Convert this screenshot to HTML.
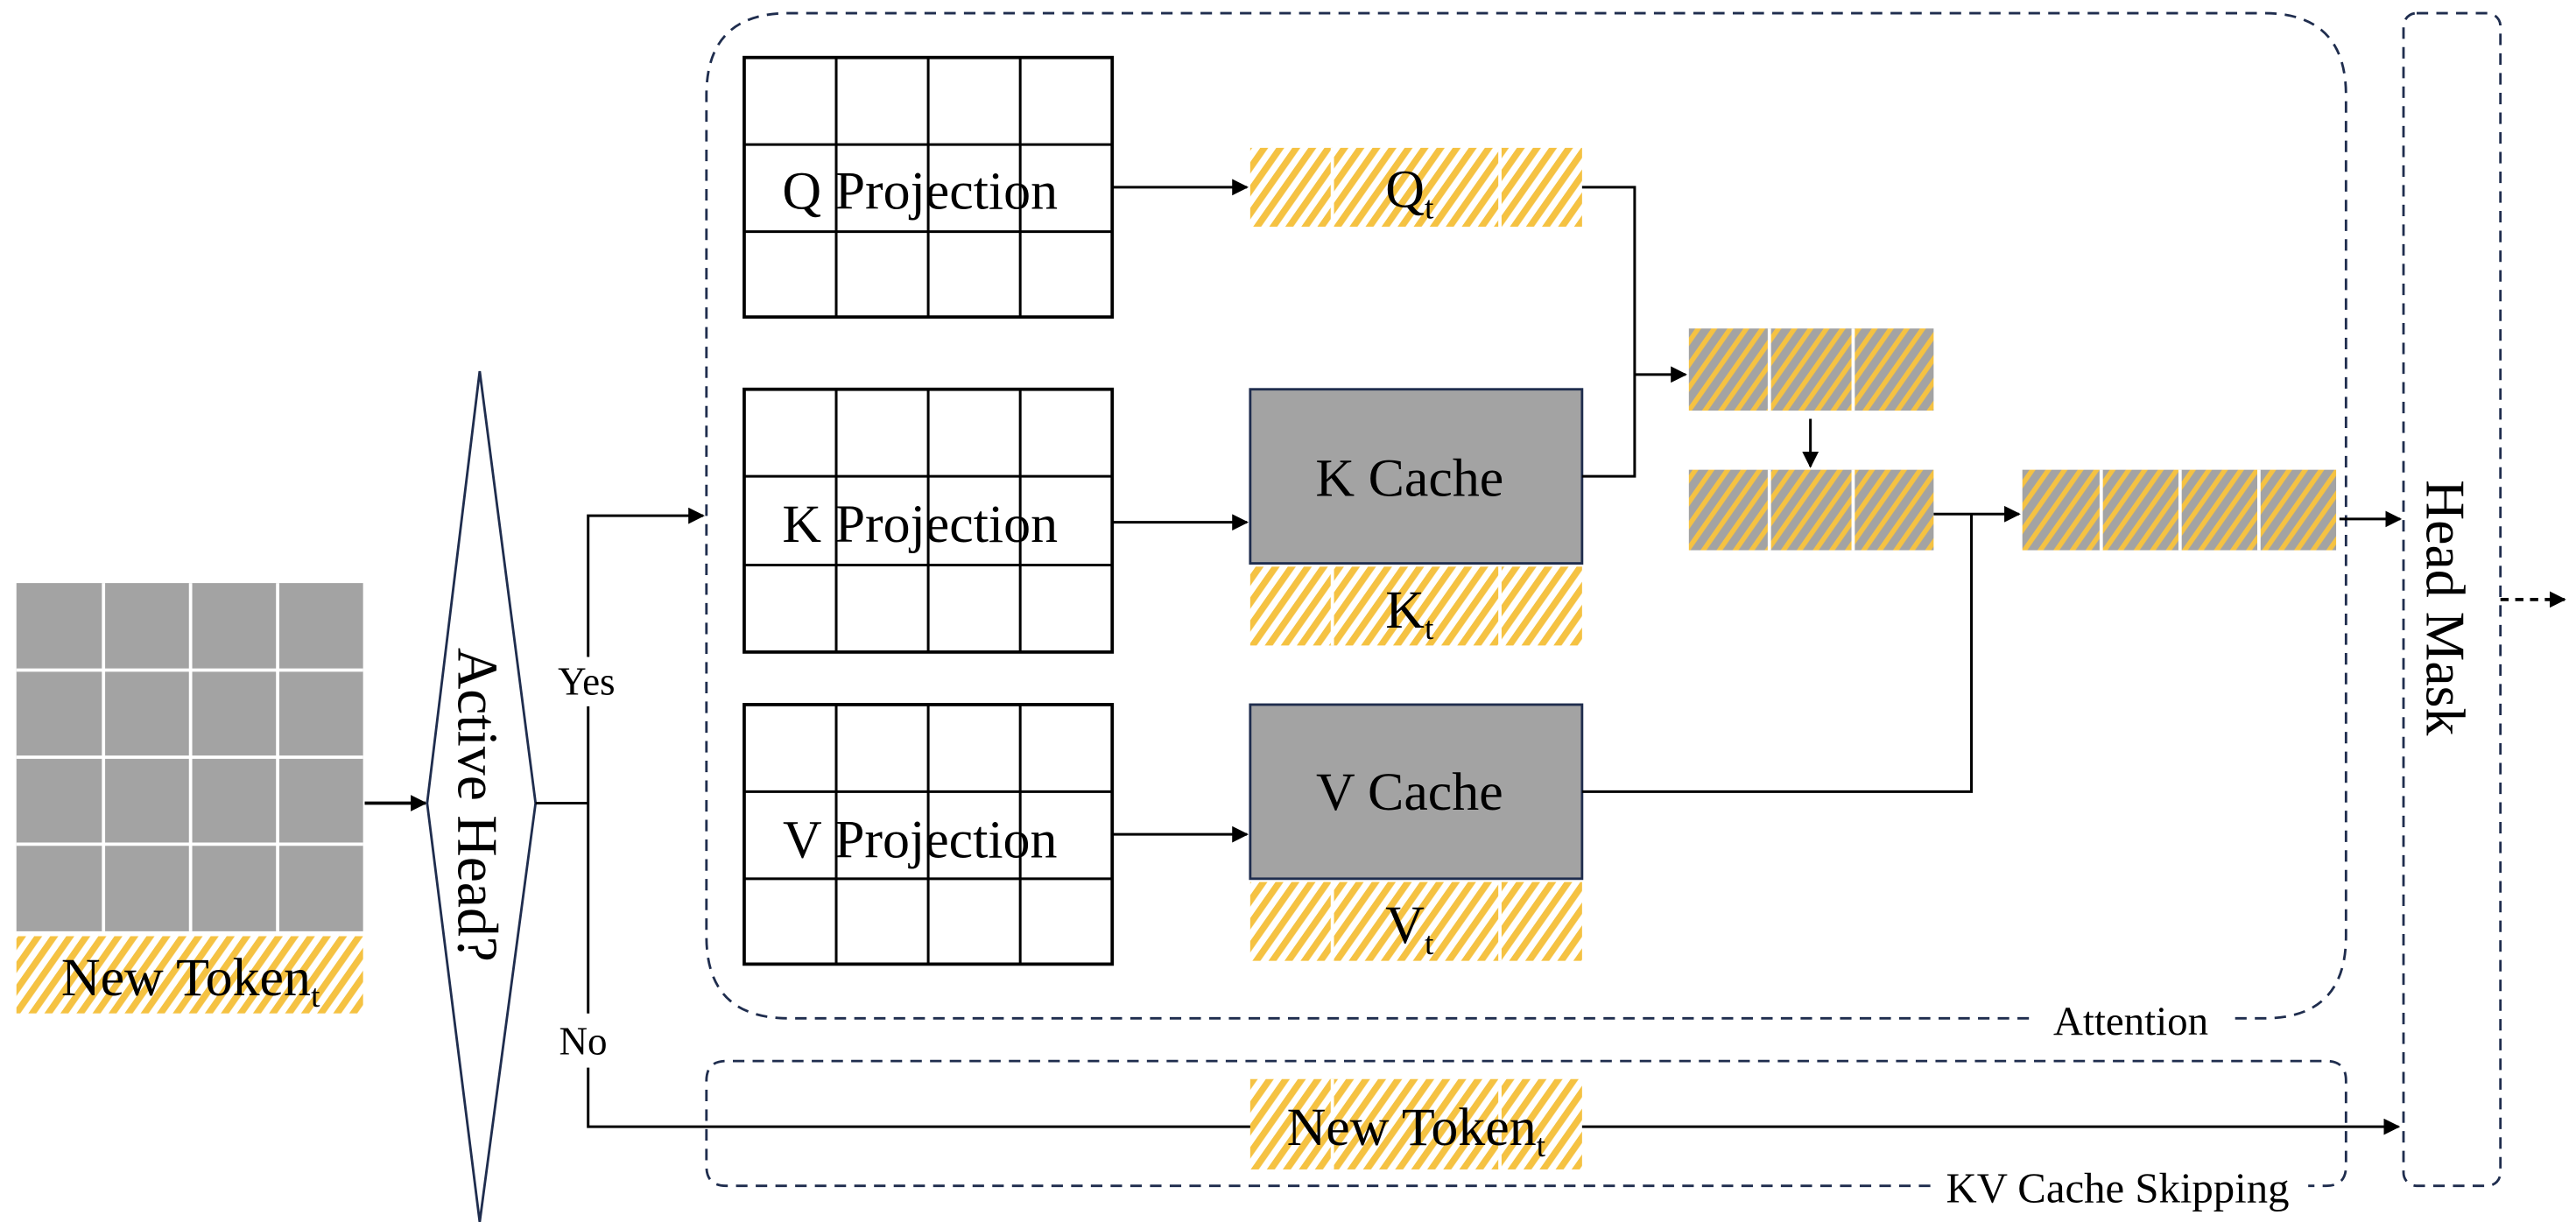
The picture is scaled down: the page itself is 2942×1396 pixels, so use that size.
<!DOCTYPE html>
<html><head><meta charset="utf-8"><style>html,body{margin:0;padding:0;background:#fff}svg{display:block}</style></head><body>
<svg width="2942" height="1396" viewBox="0 0 1568 744" xmlns="http://www.w3.org/2000/svg" font-family="Liberation Serif, serif">
<defs>
<pattern id="yw" width="8" height="8" patternUnits="userSpaceOnUse" patternTransform="rotate(35)"><rect width="8" height="8" fill="#fff"/><rect width="4" height="8" fill="#F5C242"/></pattern>
<pattern id="yg" width="8" height="8" patternUnits="userSpaceOnUse" patternTransform="rotate(35)"><rect width="8" height="8" fill="#A3A3A3"/><rect width="3" height="8" fill="#F5C242"/></pattern>
<marker id="ar" markerWidth="10" markerHeight="10" refX="9" refY="5" orient="auto" markerUnits="userSpaceOnUse"><path d="M0,0 L10,5 L0,10 z" fill="#000"/></marker>
</defs>
<rect width="1568" height="744" fill="#fff"/>
<rect x="10" y="355" width="211" height="212" fill="#A3A3A3"/>
<g stroke="#fff" stroke-width="2">
<line x1="63" y1="355" x2="63" y2="567"/><line x1="116" y1="355" x2="116" y2="567"/><line x1="169" y1="355" x2="169" y2="567"/>
<line x1="10" y1="408" x2="221" y2="408"/><line x1="10" y1="461" x2="221" y2="461"/><line x1="10" y1="514" x2="221" y2="514"/>
</g>
<rect x="10" y="570" width="211" height="47" fill="url(#yw)"/>
<text x="116" y="606" font-size="33" text-anchor="middle">New Token<tspan font-size="20" dy="7">t</tspan></text>
<line x1="222" y1="489" x2="259" y2="489" stroke="#000" stroke-width="2" marker-end="url(#ar)"/>
<polygon points="292,226 326,489 292,744 260,489" fill="#fff" stroke="#1F2D4E" stroke-width="1.5"/>
<text transform="translate(279,490) rotate(90)" font-size="35" text-anchor="middle">Active Head?</text>
<g stroke="#000" stroke-width="1.6" fill="none">
<polyline points="326,489 358,489"/>
<polyline points="358,400 358,314 428,314" marker-end="url(#ar)"/>
<line x1="358" y1="430" x2="358" y2="617"/>
<polyline points="358,650 358,686 1460,686" marker-end="url(#ar)"/>
</g>
<text x="357" y="423" font-size="24" text-anchor="middle">Yes</text>
<text x="355" y="642" font-size="24" text-anchor="middle">No</text>
<path d="M1235,620 L480,620 Q430,620 430,570 L430,58 Q430,8 480,8 L1378,8 Q1428,8 1428,58 L1428,570 Q1428,620 1378,620 L1357,620" fill="none" stroke="#1F2D4E" stroke-width="1.5" stroke-dasharray="7,5"/>
<text x="1297" y="630" font-size="25" text-anchor="middle">Attention</text>
<path d="M1175,722 L442,722 Q430,722 430,710 L430,658 Q430,646 442,646 L1416,646 Q1428,646 1428,658 L1428,710 Q1428,722 1416,722 L1405,722" fill="none" stroke="#1F2D4E" stroke-width="1.5" stroke-dasharray="7,5"/>
<text x="1289" y="732" font-size="26" text-anchor="middle">KV Cache Skipping</text>
<rect x="1463" y="8" width="59" height="714" rx="8" fill="none" stroke="#1F2D4E" stroke-width="1.5" stroke-dasharray="7,5"/>
<text transform="translate(1477,370) rotate(90)" font-size="34" text-anchor="middle">Head Mask</text>
<line x1="1522" y1="365" x2="1561" y2="365" stroke="#000" stroke-width="2" stroke-dasharray="5,4" marker-end="url(#ar)"/>
<g fill="#fff" stroke="#000" stroke-width="2">
<rect x="453" y="35" width="224" height="158"/>
<rect x="453" y="237" width="224" height="160"/>
<rect x="453" y="429" width="224" height="158"/>
</g>
<g stroke="#000" stroke-width="1.6">
<line x1="509" y1="35" x2="509" y2="193"/><line x1="565" y1="35" x2="565" y2="193"/><line x1="621" y1="35" x2="621" y2="193"/>
<line x1="453" y1="88" x2="677" y2="88"/><line x1="453" y1="141" x2="677" y2="141"/>
<line x1="509" y1="237" x2="509" y2="397"/><line x1="565" y1="237" x2="565" y2="397"/><line x1="621" y1="237" x2="621" y2="397"/>
<line x1="453" y1="290" x2="677" y2="290"/><line x1="453" y1="344" x2="677" y2="344"/>
<line x1="509" y1="429" x2="509" y2="587"/><line x1="565" y1="429" x2="565" y2="587"/><line x1="621" y1="429" x2="621" y2="587"/>
<line x1="453" y1="482" x2="677" y2="482"/><line x1="453" y1="535" x2="677" y2="535"/>
</g>
<text x="560" y="127" font-size="33" text-anchor="middle">Q Projection</text>
<text x="560" y="330" font-size="33" text-anchor="middle">K Projection</text>
<text x="560" y="522" font-size="33" text-anchor="middle">V Projection</text>
<g stroke="#000" stroke-width="1.6" fill="none">
<line x1="677" y1="114" x2="759" y2="114" marker-end="url(#ar)"/>
<line x1="677" y1="318" x2="759" y2="318" marker-end="url(#ar)"/>
<line x1="677" y1="508" x2="759" y2="508" marker-end="url(#ar)"/>
</g>
<rect x="761" y="90" width="202" height="48" fill="url(#yw)"/>
<g stroke="#fff" stroke-width="2"><line x1="811" y1="90" x2="811" y2="138"/><line x1="913" y1="90" x2="913" y2="138"/></g>
<text x="858" y="126" font-size="33" text-anchor="middle">Q<tspan font-size="20" dy="7">t</tspan></text>
<rect x="761" y="237" width="202" height="106" fill="#A3A3A3" stroke="#1F2D4E" stroke-width="1.5"/>
<text x="858" y="302" font-size="33" text-anchor="middle">K Cache</text>
<rect x="761" y="345" width="202" height="48" fill="url(#yw)"/>
<g stroke="#fff" stroke-width="2"><line x1="811" y1="345" x2="811" y2="393"/><line x1="913" y1="345" x2="913" y2="393"/></g>
<text x="858" y="382" font-size="33" text-anchor="middle">K<tspan font-size="20" dy="7">t</tspan></text>
<rect x="761" y="429" width="202" height="106" fill="#A3A3A3" stroke="#1F2D4E" stroke-width="1.5"/>
<text x="858" y="493" font-size="33" text-anchor="middle">V Cache</text>
<rect x="761" y="537" width="202" height="48" fill="url(#yw)"/>
<g stroke="#fff" stroke-width="2"><line x1="811" y1="537" x2="811" y2="585"/><line x1="913" y1="537" x2="913" y2="585"/></g>
<text x="858" y="574" font-size="33" text-anchor="middle">V<tspan font-size="20" dy="7">t</tspan></text>
<rect x="761" y="657" width="202" height="55" fill="url(#yw)"/>
<g stroke="#fff" stroke-width="2"><line x1="811" y1="657" x2="811" y2="712"/><line x1="913" y1="657" x2="913" y2="712"/></g>
<text x="862" y="697" font-size="33" text-anchor="middle">New Token<tspan font-size="20" dy="7">t</tspan></text>
<g stroke="#000" stroke-width="1.6" fill="none">
<polyline points="963,114 995,114 995,290 963,290"/>
<line x1="995" y1="228" x2="1026" y2="228" marker-end="url(#ar)"/>
<line x1="1102" y1="255" x2="1102" y2="284" marker-end="url(#ar)"/>
<line x1="1177" y1="313" x2="1229" y2="313" marker-end="url(#ar)"/>
<polyline points="963,482 1200,482 1200,313"/>
<line x1="1424" y1="316" x2="1461" y2="316" marker-end="url(#ar)"/>
</g>
<rect x="1028" y="200" width="149" height="50" fill="url(#yg)"/>
<g stroke="#fff" stroke-width="2"><line x1="1077" y1="200" x2="1077" y2="250"/><line x1="1128" y1="200" x2="1128" y2="250"/></g>
<rect x="1028" y="286" width="149" height="49" fill="url(#yg)"/>
<g stroke="#fff" stroke-width="2"><line x1="1077" y1="286" x2="1077" y2="335"/><line x1="1128" y1="286" x2="1128" y2="335"/></g>
<rect x="1231" y="286" width="191" height="49" fill="url(#yg)"/>
<g stroke="#fff" stroke-width="2"><line x1="1279" y1="286" x2="1279" y2="335"/><line x1="1327" y1="286" x2="1327" y2="335"/><line x1="1375" y1="286" x2="1375" y2="335"/></g>
</svg>
</body></html>
